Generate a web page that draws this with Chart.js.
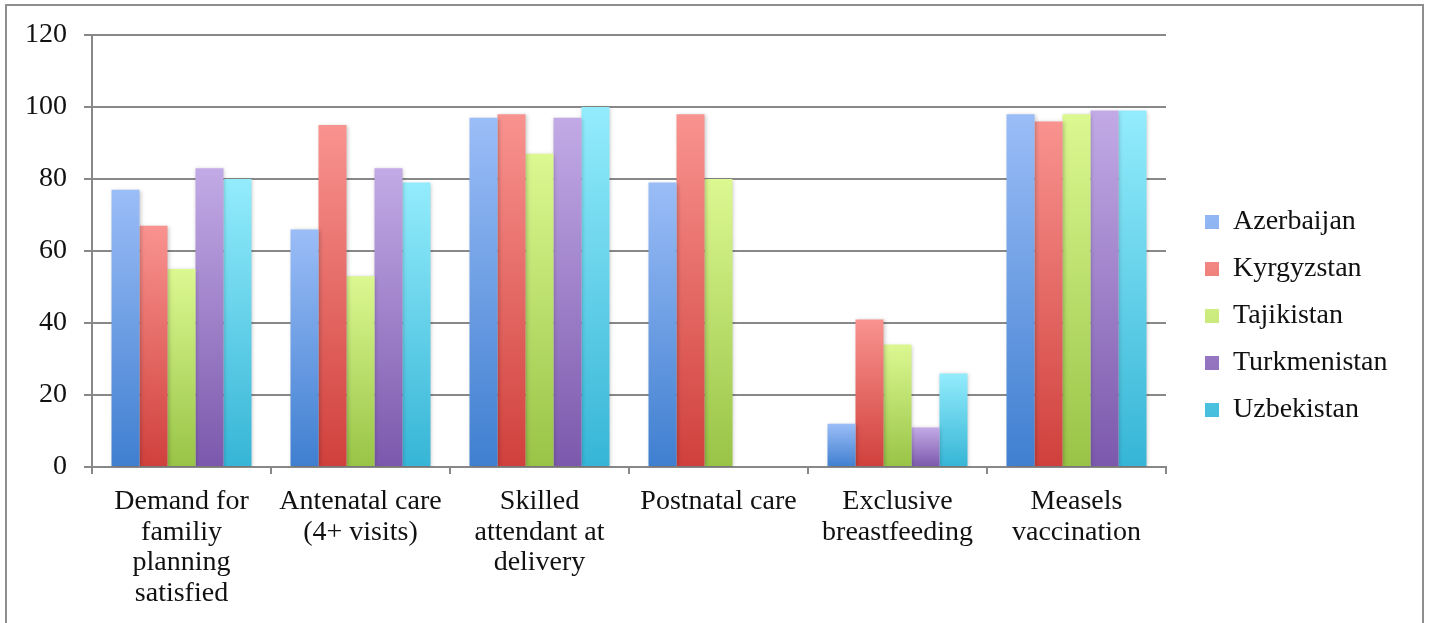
<!DOCTYPE html>
<html>
<head>
<meta charset="utf-8">
<script src="https://cdn.jsdelivr.net/npm/chart.js@4/dist/chart.umd.min.js"></script>
<style>
  body { margin: 0; background: #fff; overflow: hidden; }
  #wrap { position: relative; width: 1429px; height: 623px; }
  #grafico { position: absolute; left: 0; top: 0; }
  #moldura {
    position: absolute; left: 5px; top: 4px; width: 1415px; height: 700px;
    border: 2px solid #8e8e8e; pointer-events: none;
  }
</style>
</head>
<body>
<div id="wrap">
  <canvas id="grafico" width="1429" height="623"></canvas>
  <div id="moldura"></div>
</div>
<script>
// Indicadores (categorias do eixo X, em várias linhas)
const categorias = [
  ["Demand for", "familiy", "planning", "satisfied"],
  ["Antenatal care", "(4+ visits)"],
  ["Skilled", "attendant at", "delivery"],
  ["Postnatal care"],
  ["Exclusive", "breastfeeding"],
  ["Measels", "vaccination"]
];

// Valores (%) por país
const azerbaijan   = [77, 66, 97, 79, 12, 98];
const kyrgyzstan   = [67, 95, 98, 98, 41, 96];
const tajikistan   = [55, 53, 87, 80, 34, 98];
const turkmenistan = [83, 83, 97, null, 11, 99];
const uzbekistan   = [80, 79, 100, null, 26, 99];

const paises = ["Azerbaijan", "Kyrgyzstan", "Tajikistan", "Turkmenistan", "Uzbekistan"];
const series = [azerbaijan, kyrgyzstan, tajikistan, turkmenistan, uzbekistan];

// Cores: claro no topo, escuro na base, e uma cor média para a legenda
const coresTopo  = ['#9bbdf7', '#f9938f', '#dcf891', '#c2aae6', '#93ecfc'];
const coresBase  = ['#3f7fd0', '#d0403c', '#98c446', '#7b58ac', '#36b5d6'];
const coresMedia = ['#6b9ee4', '#e46964', '#bade6c', '#9f81c9', '#64d0ea'];

const fonte = { family: "'Liberation Serif', 'Times New Roman', serif", size: 28, lineHeight: 1.1 };
const corEixo = '#888888';

// Degradê vertical em cada barra
function gradienteBarra(context, i) {
  if (context.type !== 'data' || !context.chart.chartArea) return coresMedia[i];
  const v = context.raw;
  if (v === null || v === undefined) return coresMedia[i];
  const y = context.chart.scales.y;
  const topo = y.getPixelForValue(v);
  const base = y.getPixelForValue(0);
  const g = context.chart.ctx.createLinearGradient(0, topo, 0, base);
  g.addColorStop(0, coresTopo[i]);
  g.addColorStop(1, coresBase[i]);
  return g;
}

// Largura fixa da legenda e posição dela ao lado do gráfico
const ajusteLegenda = {
  id: 'ajusteLegenda',
  beforeLayout(chart) {
    const lg = chart.legend;
    if (lg && !lg._larguraFixa) {
      const fitOriginal = lg.fit;
      lg.fit = function () {
        fitOriginal.call(this);
        this.width = 263;
      };
      lg._larguraFixa = true;
    }
  },
  afterLayout(chart) {
    const lg = chart.legend;
    lg.left += 20;
    lg.right += 20;
    lg.top = 35;
    lg.bottom = 597;
    lg.height = lg.bottom - lg.top;
  }
};

// Sombra leve atrás das barras
const sombraBarras = {
  id: 'sombraBarras',
  beforeDatasetsDraw(chart) {
    const ctx = chart.ctx;
    ctx.save();
    ctx.shadowColor = 'rgba(0,0,0,0.22)';
    ctx.shadowBlur = 4;
    ctx.shadowOffsetX = 1;
    ctx.shadowOffsetY = 1;
  },
  afterDatasetsDraw(chart) {
    chart.ctx.restore();
  }
};

const ctx = document.getElementById('grafico').getContext('2d');

new Chart(ctx, {
  type: 'bar',
  data: {
    labels: categorias,
    datasets: paises.map((nome, i) => ({
      label: nome,
      data: series[i],
      backgroundColor: c => gradienteBarra(c, i),
      borderWidth: 0,
      categoryPercentage: 0.782,
      barPercentage: 1
    }))
  },
  options: {
    responsive: false,
    animation: false,
    devicePixelRatio: 1,
    layout: { padding: { left: 0, top: 35, right: 0, bottom: 0 } },
    scales: {
      x: {
        grid: {
          drawOnChartArea: false,
          drawTicks: true,
          tickLength: 7,
          color: corEixo,
          lineWidth: 2
        },
        border: { color: corEixo, width: 2 },
        ticks: {
          color: '#111',
          font: fonte,
          padding: 12,
          maxRotation: 0,
          autoSkip: false
        },
        afterFit(scale) { scale.height = 156; }
      },
      y: {
        min: 0,
        max: 120,
        grid: {
          color: corEixo,
          lineWidth: 2,
          tickLength: 8
        },
        border: { color: corEixo, width: 2 },
        ticks: {
          stepSize: 20,
          color: '#111',
          font: fonte,
          padding: 17
        },
        afterFit(scale) { scale.width = 92; }
      }
    },
    plugins: {
      legend: {
        position: 'right',
        labels: {
          color: '#111',
          font: fonte,
          boxWidth: 14,
          boxHeight: 14,
          padding: 19
        }
      },
      title: { display: false },
      tooltip: { enabled: false }
    }
  },
  plugins: [ajusteLegenda, sombraBarras]
});
</script>
</body>
</html>
